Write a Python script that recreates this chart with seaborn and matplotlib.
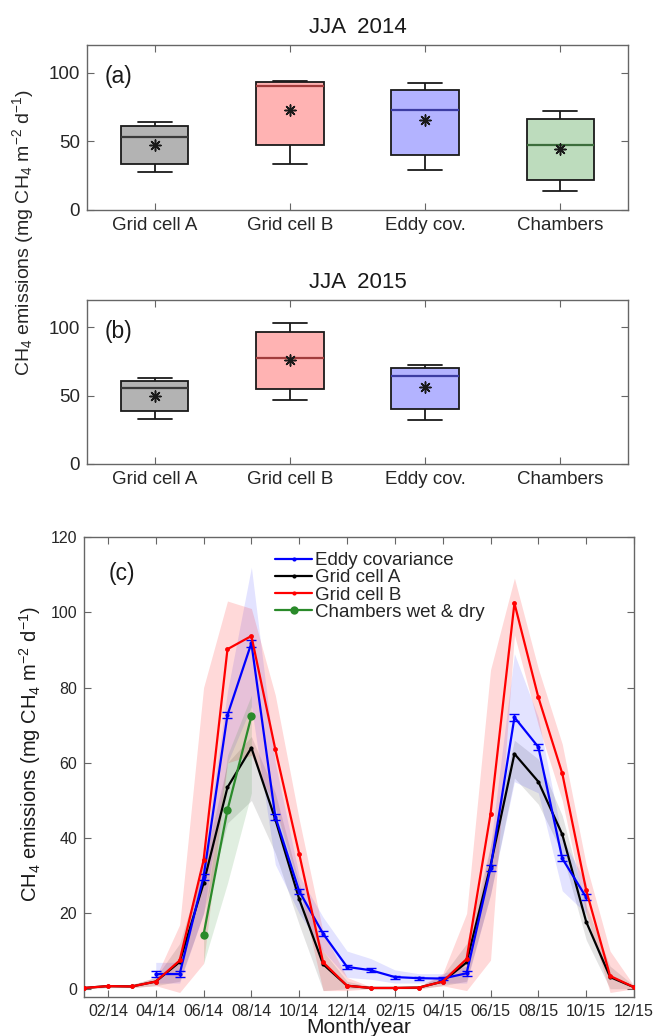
import numpy as np
import pandas as pd
import matplotlib
matplotlib.use("Agg")
import matplotlib.pyplot as plt
import seaborn as sns
from matplotlib.lines import Line2D

sns.set_theme(style="ticks")
plt.rcParams["font.family"] = ["Liberation Sans", "DejaVu Sans"]
plt.rcParams["mathtext.default"] = "regular"

# ---------------- data: panels (a) and (b) ----------------
categories = ["Grid cell A", "Grid cell B", "Eddy cov.", "Chambers"]
box_colors = ["#b3b3b3", "#ffb3b3", "#b3b3ff", "#bddcbd"]
median_colors = ["#3a3a3a", "#a23c3c", "#3c3ca2", "#3c6e3c"]

# JJA 2014
jja14_low = [27.6, 33.7, 29.3, 13.7]
jja14_q1 = [33.7, 47.6, 40.0, 22.0]
jja14_med = [52.9, 90.2, 72.4, 47.1]
jja14_q3 = [61.2, 92.9, 87.3, 65.9]
jja14_high = [64.1, 93.9, 92.4, 72.2]
jja14_mean = [47.6, 72.4, 65.1, 44.6]

# JJA 2015 (no chamber data)
jja15_low = [33.2, 46.6, 32.2]
jja15_q1 = [38.5, 54.6, 40.2]
jja15_med = [55.4, 77.8, 64.6]
jja15_q3 = [61.0, 96.6, 70.5]
jja15_high = [62.7, 102.9, 72.4]
jja15_mean = [50.0, 76.1, 56.6]

# ---------------- data: panel (c) ----------------
month_idx = list(range(24))
month_labels = ["01/14", "02/14", "03/14", "04/14", "05/14", "06/14", "07/14", "08/14",
                "09/14", "10/14", "11/14", "12/14", "01/15", "02/15", "03/15", "04/15",
                "05/15", "06/15", "07/15", "08/15", "09/15", "10/15", "11/15", "12/15"]
nan = np.nan
eddy = [nan, nan, nan, 3.9, 3.9, 29.7, 72.7, 91.8, 45.7, 25.9, 14.6, 5.8,
        4.9, 3.1, 2.8, 2.7, 4.1, 32.0, 72.1, 64.2, 34.6, 24.3, nan, nan]
eddy_err = [nan, nan, nan, 0.7, 0.7, 0.8, 0.9, 0.9, 0.8, 0.7, 0.7, 0.5,
            0.5, 0.4, 0.4, 0.4, 0.6, 0.8, 0.9, 0.9, 0.8, 0.8, nan, nan]
eddy_lo = [nan, nan, nan, 1.5, 1.5, 20, 60, 75, 33, 20, 10, 3,
           2.5, 1.5, 1.5, 1.5, 1.5, 25, 55, 52, 26, 20, nan, nan]
eddy_hi = [nan, nan, nan, 7, 7, 34, 79, 112, 60, 30, 19, 10,
           8, 5, 4, 4, 6, 38, 89, 72, 40, 28, nan, nan]

grid_a = [0.2, 0.7, 0.6, 1.9, 7.1, 28.0, 53.5, 64.0, 45.0, 23.8, 6.5, 0.8,
          0.2, 0.2, 0.3, 1.9, 7.0, 32.7, 62.4, 55.0, 41.0, 17.8, 3.1, 0.4]
grid_a_lo = [0, 0.3, 0.3, 0.8, 2, 20, 44, 50, 36, 17, -0.5, 0,
             0, 0, 0, 0.8, 2, 25, 56, 49, 36, 13, 0, 0]
grid_a_hi = [0.5, 1.1, 1.1, 3, 12, 33, 60, 67, 52, 28, 10, 2,
             0.5, 0.5, 0.6, 3.5, 12, 38, 66, 61, 46, 22, 6, 0.8]

grid_b = [0.2, 0.7, 0.6, 1.9, 7.5, 34.1, 90.2, 93.7, 63.6, 35.8, 7.0, 0.8,
          0.2, 0.2, 0.3, 1.9, 7.9, 46.4, 102.4, 77.4, 57.2, 26.2, 3.4, 0.4]
grid_b_lo = [0, 0.3, 0.3, 0.8, -1.0, 6.7, 60, 62, 48, 27, -0.5, -0.5,
             0, 0, 0, 0.8, -0.5, 7.6, 94, 70, 50, 20, -1, 0]
grid_b_hi = [0.5, 1.1, 1.1, 3, 17, 80, 103, 101, 78, 45, 15, 3,
             0.5, 0.5, 0.6, 4, 20, 84.7, 109.1, 85, 65, 33, 10, 0.8]

chambers = [nan] * 5 + [14.4, 47.5, 72.4] + [nan] * 16
chambers_lo = [nan] * 5 + [6.7, 28, 52] + [nan] * 16
chambers_hi = [nan] * 5 + [17, 62, 78] + [nan] * 16

series_names = ["Eddy covariance", "Grid cell A", "Grid cell B", "Chambers wet & dry"]
series_colors = ["#0000ff", "#000000", "#ff0000", "#2a8a2a"]

# ---------------- figure ----------------
W, H = 656, 1036
fig = plt.figure(figsize=(W / 100, H / 100), dpi=100)

spine_col = "#666666"
tick_col = "#262626"


def px_axes(left, top, right, bottom):
    return fig.add_axes([left / W, 1 - bottom / H, (right - left) / W, (bottom - top) / H])


def style_axes(ax, labelsize):
    for s in ax.spines.values():
        s.set_visible(True)
        s.set_color(spine_col)
        s.set_linewidth(1.0)
    ax.tick_params(direction="in", top=True, right=True, length=5, width=0.8,
                   color=spine_col, labelcolor=tick_col, labelsize=labelsize, pad=5)


def box_panel(ax, low, q1, med, q3, high, mean, title, tag):
    n = len(low)
    rows = []
    for i in range(n):
        for v in (low[i], q1[i], med[i], q3[i], high[i]):
            rows.append({"cat": categories[i], "val": v})
    df = pd.DataFrame(rows)
    sns.boxplot(data=df, x="cat", y="val", hue="cat", order=categories,
                hue_order=categories, palette=dict(zip(categories, box_colors)),
                width=0.5, whis=(0, 100), saturation=1, linecolor="#1a1a1a",
                linewidth=1.3, showfliers=False, legend=False, ax=ax)
    # median line colours
    conts = list(ax.containers)
    for cont in conts:
        try:
            fc = cont.boxes[0].get_facecolor()
            hexc = matplotlib.colors.to_hex(fc[:3])
            k = [matplotlib.colors.to_hex(c) for c in box_colors].index(hexc)
            for m in cont.medians:
                m.set_color(median_colors[k])
                m.set_linewidth(1.6)
        except Exception:
            pass
    sns.stripplot(x=categories[:n], y=mean, order=categories, jitter=False,
                  marker=(8, 2, 0), color="k", edgecolor="k", size=8,
                  linewidth=1.1, ax=ax, zorder=5)
    ax.set_xlim(-0.5, 3.5)
    ax.set_ylim(0, 120)
    ax.set_yticks([0, 50, 100])
    ax.set_xlabel("")
    ax.set_ylabel("")
    style_axes(ax, 13.5)
    ax.set_title(title, fontsize=16, pad=9, color="k")
    ax.text(0.033, 0.81, tag, transform=ax.transAxes, fontsize=16.5,
            va="center", ha="left", color="k")


ax_a = px_axes(87, 45, 628, 210)
box_panel(ax_a, jja14_low, jja14_q1, jja14_med, jja14_q3, jja14_high, jja14_mean,
          "JJA  2014", "(a)")
ax_b = px_axes(87, 300, 628, 464)
box_panel(ax_b, jja15_low, jja15_q1, jja15_med, jja15_q3, jja15_high, jja15_mean,
          "JJA  2015", "(b)")

ylab = "CH$_4$ emissions (mg CH$_4$ m$^{-2}$ d$^{-1}$)"
fig.text(23 / W, 1 - 232 / H, ylab, rotation=90, ha="center", va="center",
         fontsize=14, color=tick_col)

# ---------------- panel (c) ----------------
ax_c = px_axes(84, 537, 634, 997)
bands = [
    (grid_a_lo, grid_a_hi, "#000000", 0.11),
    (eddy_lo, eddy_hi, "#0000ff", 0.11),
    (grid_b_lo, grid_b_hi, "#ff0000", 0.15),
    (chambers_lo, chambers_hi, "#2a8a2a", 0.14),
]
for lo, hi, col, a in bands:
    ax_c.fill_between(month_idx, lo, hi, color=col, alpha=a, linewidth=0, zorder=1)

sns.lineplot(x=month_idx, y=grid_a, color=series_colors[1], marker="o", markersize=3,
             markeredgewidth=0, linewidth=1.6, estimator=None, ax=ax_c, zorder=3)
ax_c.errorbar(month_idx, eddy, yerr=eddy_err, fmt="none", ecolor=series_colors[0],
              elinewidth=1.0, capsize=3.5, capthick=1.0, zorder=4)
sns.lineplot(x=month_idx, y=eddy, color=series_colors[0], marker="o", markersize=3,
             markeredgewidth=0, linewidth=1.6, estimator=None, ax=ax_c, zorder=4)
sns.lineplot(x=month_idx, y=grid_b, color=series_colors[2], marker="o", markersize=3.5,
             markeredgewidth=0, linewidth=1.6, estimator=None, ax=ax_c, zorder=5)
sns.lineplot(x=month_idx, y=chambers, color=series_colors[3], marker="o", markersize=6,
             markeredgewidth=0, linewidth=1.6, estimator=None, ax=ax_c, zorder=6)

ax_c.set_xlim(0, 23)
ax_c.set_ylim(-2.2, 120)
ax_c.set_yticks(list(range(0, 121, 20)))
ax_c.set_xticks(month_idx[1::2])
ax_c.set_xticklabels(month_labels[1::2])
style_axes(ax_c, 11.5)
ax_c.set_xlabel("Month/year", fontsize=15, color="k", labelpad=-1)
ax_c.set_ylabel("")
fig.text(30 / W, 1 - 754 / H, ylab, rotation=90, ha="center", va="center",
         fontsize=14.5, color="k")
ax_c.text(0.044, 0.92, "(c)", transform=ax_c.transAxes, fontsize=16.5,
          va="center", ha="left", color="k")

handles = [
    Line2D([], [], color=series_colors[0], marker="o", markersize=3, markeredgewidth=0, lw=1.6),
    Line2D([], [], color=series_colors[1], marker="o", markersize=3, markeredgewidth=0, lw=1.6),
    Line2D([], [], color=series_colors[2], marker="o", markersize=3, markeredgewidth=0, lw=1.6),
    Line2D([], [], color=series_colors[3], marker="o", markersize=6, markeredgewidth=0, lw=1.6),
]
ax_c.legend(handles, series_names, loc="upper left", bbox_to_anchor=(0.34, 0.975),
            frameon=False, fontsize=13.5, handlelength=2.0, handletextpad=0.15,
            labelspacing=0.0, borderpad=0.2, borderaxespad=0)

fig.savefig("out.png", dpi=100)
